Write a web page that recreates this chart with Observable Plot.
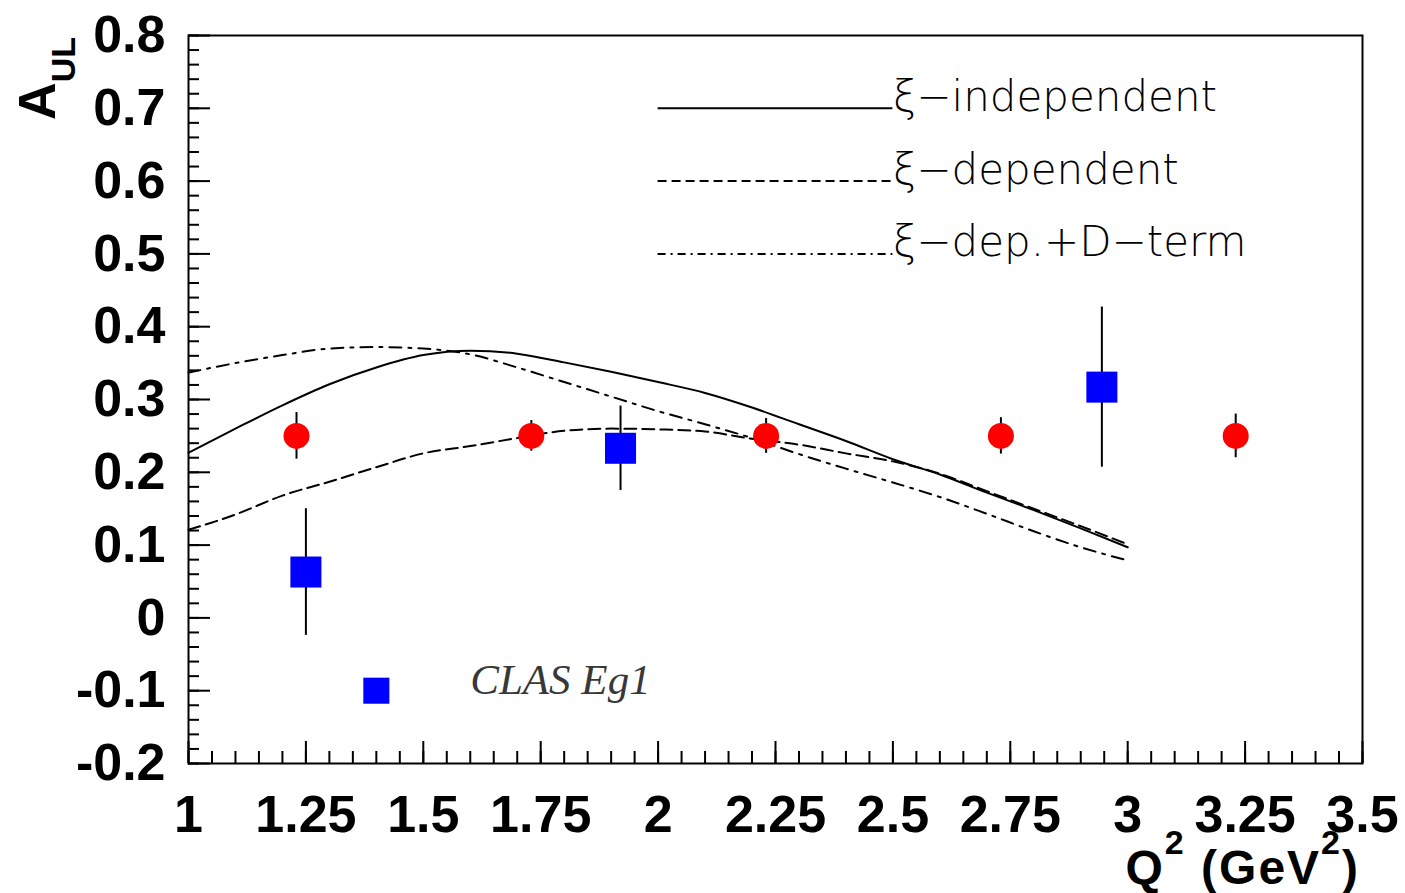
<!DOCTYPE html>
<html>
<head>
<meta charset="utf-8">
<script src="https://cdn.jsdelivr.net/npm/d3@7"></script>
<script src="https://cdn.jsdelivr.net/npm/@observablehq/plot@0.6"></script>
<style>
  html, body { margin: 0; padding: 0; background: #fff; }
  #chart { width: 1405px; height: 893px; }
</style>
</head>
<body>
<div id="chart"></div>
<script>
// Model curves of A_UL versus Q^2 (GeV^2), sampled every 0.1
const q2Grid = [1.0, 1.1, 1.2, 1.3, 1.4, 1.5, 1.6, 1.7, 1.8, 1.9, 2.0,
                2.1, 2.2, 2.3, 2.4, 2.5, 2.6, 2.7, 2.8, 2.9, 3.0];
const aulXiIndependent = [0.227, 0.260, 0.292, 0.321, 0.344, 0.361, 0.367, 0.363, 0.351, 0.338, 0.324,
                          0.309, 0.289, 0.266, 0.243, 0.218, 0.197, 0.172, 0.148, 0.123, 0.097];
const aulXiDependent   = [0.121, 0.142, 0.168, 0.187, 0.207, 0.226, 0.236, 0.247, 0.257, 0.260, 0.259,
                          0.256, 0.246, 0.238, 0.226, 0.215, 0.198, 0.174, 0.150, 0.126, 0.101];
const aulXiDepDterm    = [0.337, 0.350, 0.361, 0.370, 0.372, 0.370, 0.362, 0.344, 0.324, 0.304, 0.284,
                          0.266, 0.247, 0.225, 0.205, 0.186, 0.166, 0.143, 0.119, 0.097, 0.079];

// Projected points (red circles)
const projQ2  = [1.23, 1.73, 2.23, 2.73, 3.23];
const projAUL = [0.25, 0.25, 0.25, 0.25, 0.25];
const projErr = [0.032, 0.021, 0.024, 0.025, 0.030];

// CLAS Eg1 measurements (blue squares)
const clasQ2  = [1.25, 1.92, 2.945];
const clasAUL = [0.063, 0.233, 0.317];
const clasErr = [0.087, 0.058, 0.110];

// Axis ticks
const xTickValues = [1, 1.25, 1.5, 1.75, 2, 2.25, 2.5, 2.75, 3, 3.25, 3.5];
const yTickValues = [-0.2, -0.1, 0, 0.1, 0.2, 0.3, 0.4, 0.5, 0.6, 0.7, 0.8];

// Text
const curveLabels = ["\u03BE\u2212independent", "\u03BE\u2212dependent", "\u03BE\u2212dep.+D\u2212term"];
const clasLabel = "CLAS Eg1";

// ---- layout ----
const W = 1405, H = 893;
const mL = 188, mR = 43, mT = 35, mB = 130;
const plotW = W - mL - mR, plotH = H - mT - mB;

const dashes = [undefined, "12,6", "12,7,3,7"];
const series = [aulXiIndependent, aulXiDependent, aulXiDepDterm].map((vals, i) => ({
  label: curveLabels[i],
  dash: dashes[i],
  rows: q2Grid.map((q, j) => ({q, a: vals[j]}))
}));

const projPts = projQ2.map((q, i) => ({q, a: projAUL[i], e: projErr[i]}));
const clasPts = clasQ2.map((q, i) => ({q, a: clasAUL[i], e: clasErr[i]}));

// Legend sits inside the frame: sample line from Q2=2.0 to 2.5, rows 0.1 apart
const legendX1 = 2.0, legendX2 = 2.5, legendTop = 0.7, legendStep = 0.1;
const legendDashes = [undefined, "9,5", "8,5,2,5"];
const legendRows = series.map((s, i) => ({label: s.label, dash: legendDashes[i], y: legendTop - i * legendStep}));

// Minor / major tick positions along the frame
const xMinor = d3.range(0, 51).map(i => 1 + i * 0.05);
const xMajor = d3.range(0, 11).map(i => 1 + i * 0.25);
const yMinor = d3.range(0, 51).map(i => -0.2 + i * 0.02);
const yMajor = d3.range(0, 11).map(i => -0.2 + i * 0.1);

const marks = [
  Plot.frame({stroke: "black", strokeWidth: 2}),
  // ticks drawn inward from bottom and left edges
  Plot.tickX(xMinor, {x: d => d, insetTop: plotH - 12, stroke: "black", strokeWidth: 2}),
  Plot.tickX(xMajor, {x: d => d, insetTop: plotH - 22, stroke: "black", strokeWidth: 2}),
  Plot.tickY(yMinor, {y: d => d, insetRight: plotW - 11, stroke: "black", strokeWidth: 2}),
  Plot.tickY(yMajor, {y: d => d, insetRight: plotW - 22, stroke: "black", strokeWidth: 2}),
  Plot.axisX(xTickValues, {
    tickSize: 0, tickPadding: 32, label: null,
    tickFormat: d => String(d),
    fontSize: 52, fontWeight: "bold", fill: "black"
  }),
  Plot.axisY(yTickValues, {
    tickSize: 0, tickPadding: 23, label: null,
    tickFormat: d => (d === 0 ? "0" : d.toFixed(1)),
    fontSize: 52, fontWeight: "bold", fill: "black"
  }),
  // model curves
  ...series.map(s => Plot.line(s.rows, {
    x: "q", y: "a", stroke: "black", strokeWidth: 2,
    strokeDasharray: s.dash, curve: "monotone-x"
  })),
  // legend
  ...legendRows.map(r => Plot.ruleY([r], {
    y: "y", x1: () => legendX1, x2: () => legendX2,
    stroke: "black", strokeWidth: 2, strokeDasharray: r.dash
  })),
  Plot.text(legendRows, {
    x: () => legendX2, y: "y", text: "label",
    textAnchor: "start", dy: -11,
    fontFamily: "DejaVu Sans", fontWeight: 200, fontSize: 42, fill: "black"
  }),
  // error bars
  Plot.ruleX(projPts, {x: "q", y1: d => d.a - d.e, y2: d => d.a + d.e, stroke: "black", strokeWidth: 2}),
  Plot.ruleX(clasPts, {x: "q", y1: d => d.a - d.e, y2: d => d.a + d.e, stroke: "black", strokeWidth: 2}),
  // points
  Plot.dot(projPts, {x: "q", y: "a", r: 13, fill: "#ff0000", stroke: "none"}),
  Plot.dot(clasPts, {x: "q", y: "a", r: 17.5, symbol: "square", fill: "#0000ff", stroke: "none"}),
  // data-set key
  Plot.dot([{q: 1.4, a: -0.1}], {x: "q", y: "a", r: 14.7, symbol: "square", fill: "#0000ff", stroke: "none"}),
  Plot.text([clasLabel], {
    x: () => 1.6, y: () => -0.1, text: d => d,
    textAnchor: "start", dy: -10,
    fontFamily: "Liberation Serif", fontStyle: "italic", fontSize: 43, fill: "#383838"
  })
];

const svg = Plot.plot({
  width: W, height: H,
  marginLeft: mL, marginRight: mR, marginTop: mT, marginBottom: mB,
  x: {domain: [1, 3.5], label: null},
  y: {domain: [-0.2, 0.8], label: null},
  style: {fontFamily: "Liberation Sans", background: "white", overflow: "visible"},
  marks
});

// Axis titles with sub/superscripts
const s = d3.select(svg);
const yTitle = s.append("text")
  .attr("transform", "translate(55,37) rotate(-90)")
  .attr("text-anchor", "end")
  .attr("font-family", "Liberation Sans")
  .attr("font-weight", "bold")
  .attr("font-size", 52)
  .attr("fill", "black");
yTitle.append("tspan").text("A");
yTitle.append("tspan").attr("font-size", 34).attr("dy", 20).text("UL");

const xTitle = s.append("text")
  .attr("x", 1360).attr("y", 884)
  .attr("text-anchor", "end")
  .attr("font-family", "Liberation Sans")
  .attr("font-weight", "bold")
  .attr("font-size", 48)
  .attr("letter-spacing", 2)
  .attr("fill", "black");
xTitle.append("tspan").text("Q");
xTitle.append("tspan").attr("font-size", 34).attr("dy", -30).text("2");
xTitle.append("tspan").attr("dy", 30).text(" (GeV");
xTitle.append("tspan").attr("font-size", 34).attr("dy", -30).text("2");
xTitle.append("tspan").attr("dy", 30).text(")");

document.getElementById("chart").appendChild(svg);
</script>
</body>
</html>
